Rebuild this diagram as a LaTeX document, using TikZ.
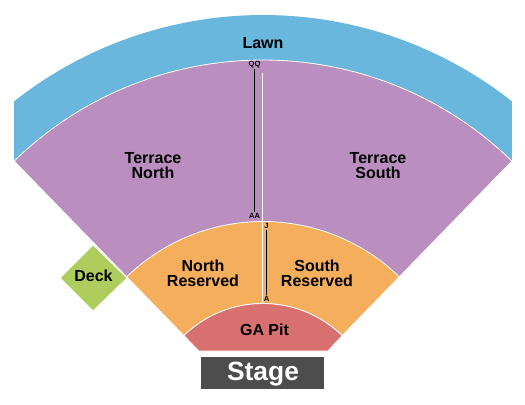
\documentclass[tikz,border=0pt]{standalone}
\usepackage{fontspec}
\setmainfont{Liberation Sans}
\definecolor{lawncol}{HTML}{6AB7DE}
\definecolor{terracecol}{HTML}{BA8FC0}
\definecolor{reservedcol}{HTML}{F5AE5B}
\definecolor{pitcol}{HTML}{D87070}
\definecolor{deckcol}{HTML}{AECD5C}
\definecolor{stagecol}{HTML}{4D4D4D}
\tikzset{
	zone/.style={draw=white,line width=0.6pt},
	zonelabel/.style={font=\fontsize{12}{11.25}\selectfont\bfseries,align=center,text=black,inner sep=0pt},
	rowlabel/.style={font=\fontsize{5.7}{6}\selectfont\bfseries,inner sep=0.6pt}
}
\begin{document}
\begin{tikzpicture}[x=0.75pt,y=0.75pt]
	\useasboundingbox (0,0) rectangle (525,404);
	\begin{scope}[shift={(263,-13)}]
		\fill[lawncol] (134.2:357)--(128.27:402) arc[start angle=128.27,end angle=51.73,radius=402]--(45.8:357) arc[start angle=45.8,end angle=134.2,radius=357]--cycle;
		\fill[terracecol] (134.2:357) arc[start angle=134.2,end angle=45.8,radius=357]--(45.8:195.5) arc[start angle=45.8,end angle=134.2,radius=195.5]--cycle;
		\draw[zone] (134.2:357) arc[start angle=134.2,end angle=45.8,radius=357]--(45.8:195.5);
		\draw[zone] (134.2:357)--(134.2:195.5);
		\draw[zone,fill=reservedcol] (134.2:195.5) arc[start angle=134.2,end angle=45.8,radius=195.5]--(45.8:113.5) arc[start angle=45.8,end angle=134.2,radius=113.5]--cycle;
		\draw[zone,fill=pitcol] (134.2:113.5) arc[start angle=134.2,end angle=45.8,radius=113.5]--(65,66)--(-64,66)--cycle;
		\draw[white,line width=1pt] (-0.5,344)--(-0.5,114);
	\end{scope}
	\draw[zone,fill=deckcol] (60,126)--(93,159)--(127,126)--(93,93)--cycle;
	\fill[stagecol] (201,15) rectangle (324,47);
	\node[zonelabel] (lawn) at (263,360.5) {Lawn};
	\node[zonelabel] (terracenorth) at (153,238) {Terrace\\North};
	\node[zonelabel] (terracesouth) at (378,238) {Terrace\\South};
	\node[zonelabel] (northreserved) at (203,131) {North\\Reserved};
	\node[zonelabel] (southreserved) at (317,131) {South\\Reserved};
	\node[zonelabel] (gapit) at (264.5,74) {GA Pit};
	\node[zonelabel] (deck) at (93.5,128) {Deck};
	\node[zonelabel,text=white,font=\fontsize{19.8}{22}\selectfont\bfseries] (stage) at (263,29.5) {Stage};
	\node[rowlabel] (qq) at (254.5,339) {QQ};
	\node[rowlabel] (aa) at (254.5,188) {AA};
	\node[rowlabel] (rowj) at (266.5,178) {J};
	\node[rowlabel] (rowa) at (266.5,105) {A};
	\draw[line width=0.75pt] (qq)--(aa);
	\draw[line width=0.75pt] (rowj)--(rowa);
\end{tikzpicture}
\end{document}
